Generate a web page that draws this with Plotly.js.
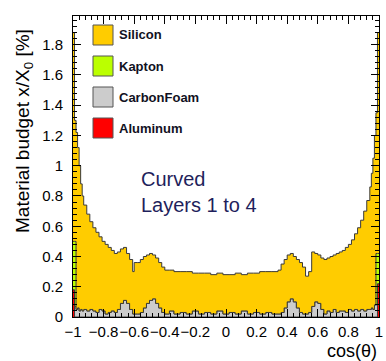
<!DOCTYPE html>
<html>
<head>
<meta charset="utf-8">
<script src="https://cdn.plot.ly/plotly-3.0.1.min.js"></script>
<style>
  html, body { margin: 0; padding: 0; background: #fff; }
  #chart { width: 386px; height: 361px; }
</style>
</head>
<body>
<div id="chart"></div>
<script>
// cos(theta) bin left edges (last value closes the final bin)
const cosTheta = [
  -1.00, -0.99, -0.98, -0.97, -0.96, -0.95, -0.94, -0.93, -0.91, -0.89,
  -0.87, -0.85, -0.83, -0.81, -0.79, -0.77, -0.75, -0.73, -0.71, -0.69,
  -0.67, -0.65, -0.63, -0.61, -0.60, -0.58, -0.56, -0.54, -0.52, -0.50,
  -0.48, -0.46, -0.44, -0.42, -0.40, -0.37, -0.34, -0.30, -0.26, -0.22,
  -0.18, -0.14, -0.10, -0.06, -0.02, 0.02, 0.06, 0.10, 0.14, 0.18,
  0.22, 0.26, 0.30, 0.34, 0.36, 0.38, 0.40, 0.42, 0.44, 0.46,
  0.48, 0.50, 0.52, 0.54, 0.56, 0.58, 0.60, 0.62, 0.64, 0.66,
  0.68, 0.70, 0.72, 0.74, 0.76, 0.78, 0.80, 0.82, 0.84, 0.86,
  0.88, 0.90, 0.92, 0.94, 0.95, 0.96, 0.97, 0.98, 0.99, 1.00
];

// material budget per component, x/X0 [%]
const aluminum = [
  0.18, 0, 0, 0, 0, 0, 0, 0, 0, 0,
  0, 0, 0, 0, 0, 0, 0, 0, 0, 0,
  0, 0, 0, 0, 0, 0, 0, 0, 0, 0,
  0, 0, 0, 0, 0, 0, 0, 0, 0, 0,
  0, 0, 0, 0, 0, 0, 0, 0, 0, 0,
  0, 0, 0, 0, 0, 0, 0, 0, 0, 0,
  0, 0, 0, 0, 0, 0, 0, 0, 0, 0,
  0, 0, 0, 0, 0, 0, 0, 0, 0, 0,
  0, 0, 0, 0, 0, 0, 0, 0, 0.22, 0.22
];
const carbonFoam = [
  0.00, 0.07, 0.05, 0.06, 0.04, 0.05, 0.04, 0.05, 0.04, 0.05,
  0.04, 0.03, 0.05, 0.04, 0.02, 0.03, 0.04, 0.03, 0.05, 0.09,
  0.11, 0.09, 0.05, 0.02, 0.02, 0.02, 0.03, 0.06, 0.09, 0.11,
  0.12, 0.09, 0.06, 0.03, 0.02, 0.04, 0.02, 0.03, 0.02, 0.04,
  0.02, 0.03, 0.02, 0.04, 0.02, 0.03, 0.02, 0.04, 0.02, 0.03,
  0.02, 0.03, 0.02, 0.02, 0.03, 0.06, 0.10, 0.12, 0.10, 0.06,
  0.03, 0.02, 0.02, 0.03, 0.07, 0.10, 0.09, 0.05, 0.02, 0.04,
  0.03, 0.05, 0.03, 0.04, 0.04, 0.03, 0.05, 0.04, 0.05, 0.04,
  0.05, 0.04, 0.05, 0.05, 0.06, 0.05, 0.08, 0.08, 0.00, 0.00
];
const kapton = [
  0.32, 0.43, 0, 0, 0, 0, 0, 0, 0, 0,
  0, 0, 0, 0, 0, 0, 0, 0, 0, 0,
  0, 0, 0, 0, 0, 0, 0, 0, 0, 0,
  0, 0, 0, 0, 0, 0, 0, 0, 0, 0,
  0, 0, 0, 0, 0, 0, 0, 0, 0, 0,
  0, 0, 0, 0, 0, 0, 0, 0, 0, 0,
  0, 0, 0, 0, 0, 0, 0, 0, 0, 0,
  0, 0, 0, 0, 0, 0, 0, 0, 0, 0,
  0, 0, 0, 0, 0, 0, 0, 0.34, 0.20, 0.20
];
const silicon = [
  1.38, 0.80, 1.17, 1.06, 0.96, 0.83, 0.76, 0.69, 0.64, 0.58,
  0.55, 0.53, 0.48, 0.46, 0.46, 0.43, 0.40, 0.39, 0.38, 0.36,
  0.35, 0.33, 0.33, 0.28, 0.34, 0.34, 0.35, 0.34, 0.32, 0.31,
  0.29, 0.30, 0.30, 0.30, 0.29, 0.27, 0.28, 0.27, 0.28, 0.25,
  0.27, 0.26, 0.26, 0.25, 0.26, 0.25, 0.27, 0.24, 0.27, 0.26,
  0.28, 0.27, 0.28, 0.29, 0.32, 0.32, 0.31, 0.30, 0.30, 0.32,
  0.33, 0.31, 0.25, 0.27, 0.36, 0.32, 0.32, 0.34, 0.36, 0.35,
  0.37, 0.36, 0.39, 0.39, 0.40, 0.43, 0.43, 0.47, 0.50, 0.55,
  0.59, 0.66, 0.72, 0.81, 0.89, 1.00, 1.12, 0.93, 1.46, 1.46
];

const legendNames = ['Silicon', 'Kapton', 'CarbonFoam', 'Aluminum'];
const legendColors = ['#ffcc00', '#bbff00', '#cccccc', '#ff0000'];
const tickValsX = [-1, -0.8, -0.6, -0.4, -0.2, 0, 0.2, 0.4, 0.6, 0.8, 1];
const tickTextX = ['\u22121', '\u22120.8', '\u22120.6', '\u22120.4', '\u22120.2', '0', '0.2', '0.4', '0.6', '0.8', '1'];

const FONT = 'Liberation Sans, Arial, Helvetica, sans-serif';
const stackOrder = [
  {name: 'Aluminum', y: aluminum, color: '#ff0000'},
  {name: 'CarbonFoam', y: carbonFoam, color: '#cccccc'},
  {name: 'Kapton', y: kapton, color: '#bbff00'},
  {name: 'Silicon', y: silicon, color: '#ffcc00'}
];
const traces = stackOrder.map(s => ({
  type: 'scatter', mode: 'lines', name: s.name,
  x: cosTheta, y: s.y, stackgroup: 'mat',
  line: {shape: 'hv', color: '#3a3a3a', width: 1},
  fillcolor: s.color, showlegend: false, hoverinfo: 'skip'
}));

// plot-area pixel helpers (plot area: x 73..379, y 16..317)
const L = 73, R = 379, T = 16, B = 317;
const px = v => (v - L) / (R - L);
const py = v => (B - v) / (B - T);

const shapes = [];
const annotations = [];
const rowY = [35, 66, 97, 128];
legendNames.forEach((n, i) => {
  shapes.push({type: 'rect', xref: 'paper', yref: 'paper',
    x0: px(93), x1: px(113), y0: py(rowY[i] + 10), y1: py(rowY[i] - 10),
    fillcolor: legendColors[i], line: {color: '#555', width: 1}});
  annotations.push({xref: 'paper', yref: 'paper', x: px(117), y: py(rowY[i]),
    xanchor: 'left', yanchor: 'middle', showarrow: false, text: '<b>' + n + '</b>',
    font: {family: FONT, size: 13, color: '#111122'}});
});
annotations.push({xref: 'paper', yref: 'paper', x: px(139), y: py(192),
  xanchor: 'left', yanchor: 'middle', align: 'left', showarrow: false,
  text: 'Curved<br>Layers 1 to 4', font: {family: FONT, size: 20, color: '#1f1f5c'}});
annotations.push({xref: 'paper', yref: 'paper', x: px(24), y: py(131),
  xanchor: 'center', yanchor: 'middle', textangle: -90, showarrow: false,
  text: 'Material budget x/X<sub>0</sub> [%]', font: {family: FONT, size: 19, color: '#000'}});
annotations.push({xref: 'paper', yref: 'paper', x: px(379), y: py(351),
  xanchor: 'right', yanchor: 'middle', showarrow: false,
  text: 'cos(θ)', font: {family: FONT, size: 18, color: '#000'}});

const layout = {
  width: 386, height: 361,
  margin: {l: L, r: 386 - R, t: T, b: 361 - B, pad: 0},
  paper_bgcolor: '#fff', plot_bgcolor: '#fff',
  showlegend: false,
  font: {family: FONT, color: '#000'},
  xaxis: {
    range: [-1, 1], tickvals: tickValsX, ticktext: tickTextX, tickangle: 0,
    ticks: 'inside', ticklen: 8, tickwidth: 1, tickcolor: '#000',
    minor: {ticks: 'inside', ticklen: 4, dtick: 0.04, tick0: -1, tickcolor: '#000', showgrid: false},
    showline: true, linecolor: '#000', linewidth: 1, mirror: 'ticks',
    showgrid: false, zeroline: false, tickfont: {family: FONT, size: 15, color: '#000'},
    ticklabelstandoff: 1
  },
  yaxis: {
    range: [0, 1.99], dtick: 0.2, tick0: 0,
    ticks: 'inside', ticklen: 8, tickwidth: 1, tickcolor: '#000',
    minor: {ticks: 'inside', ticklen: 4, dtick: 0.04, tick0: 0, tickcolor: '#000', showgrid: false},
    showline: true, linecolor: '#000', linewidth: 1, mirror: 'ticks',
    showgrid: false, zeroline: false, tickfont: {family: FONT, size: 15, color: '#000'},
    ticklabelstandoff: 6
  },
  shapes: shapes,
  annotations: annotations
};

Plotly.newPlot('chart', traces, layout, {staticPlot: true, displayModeBar: false});
</script>
</body>
</html>
